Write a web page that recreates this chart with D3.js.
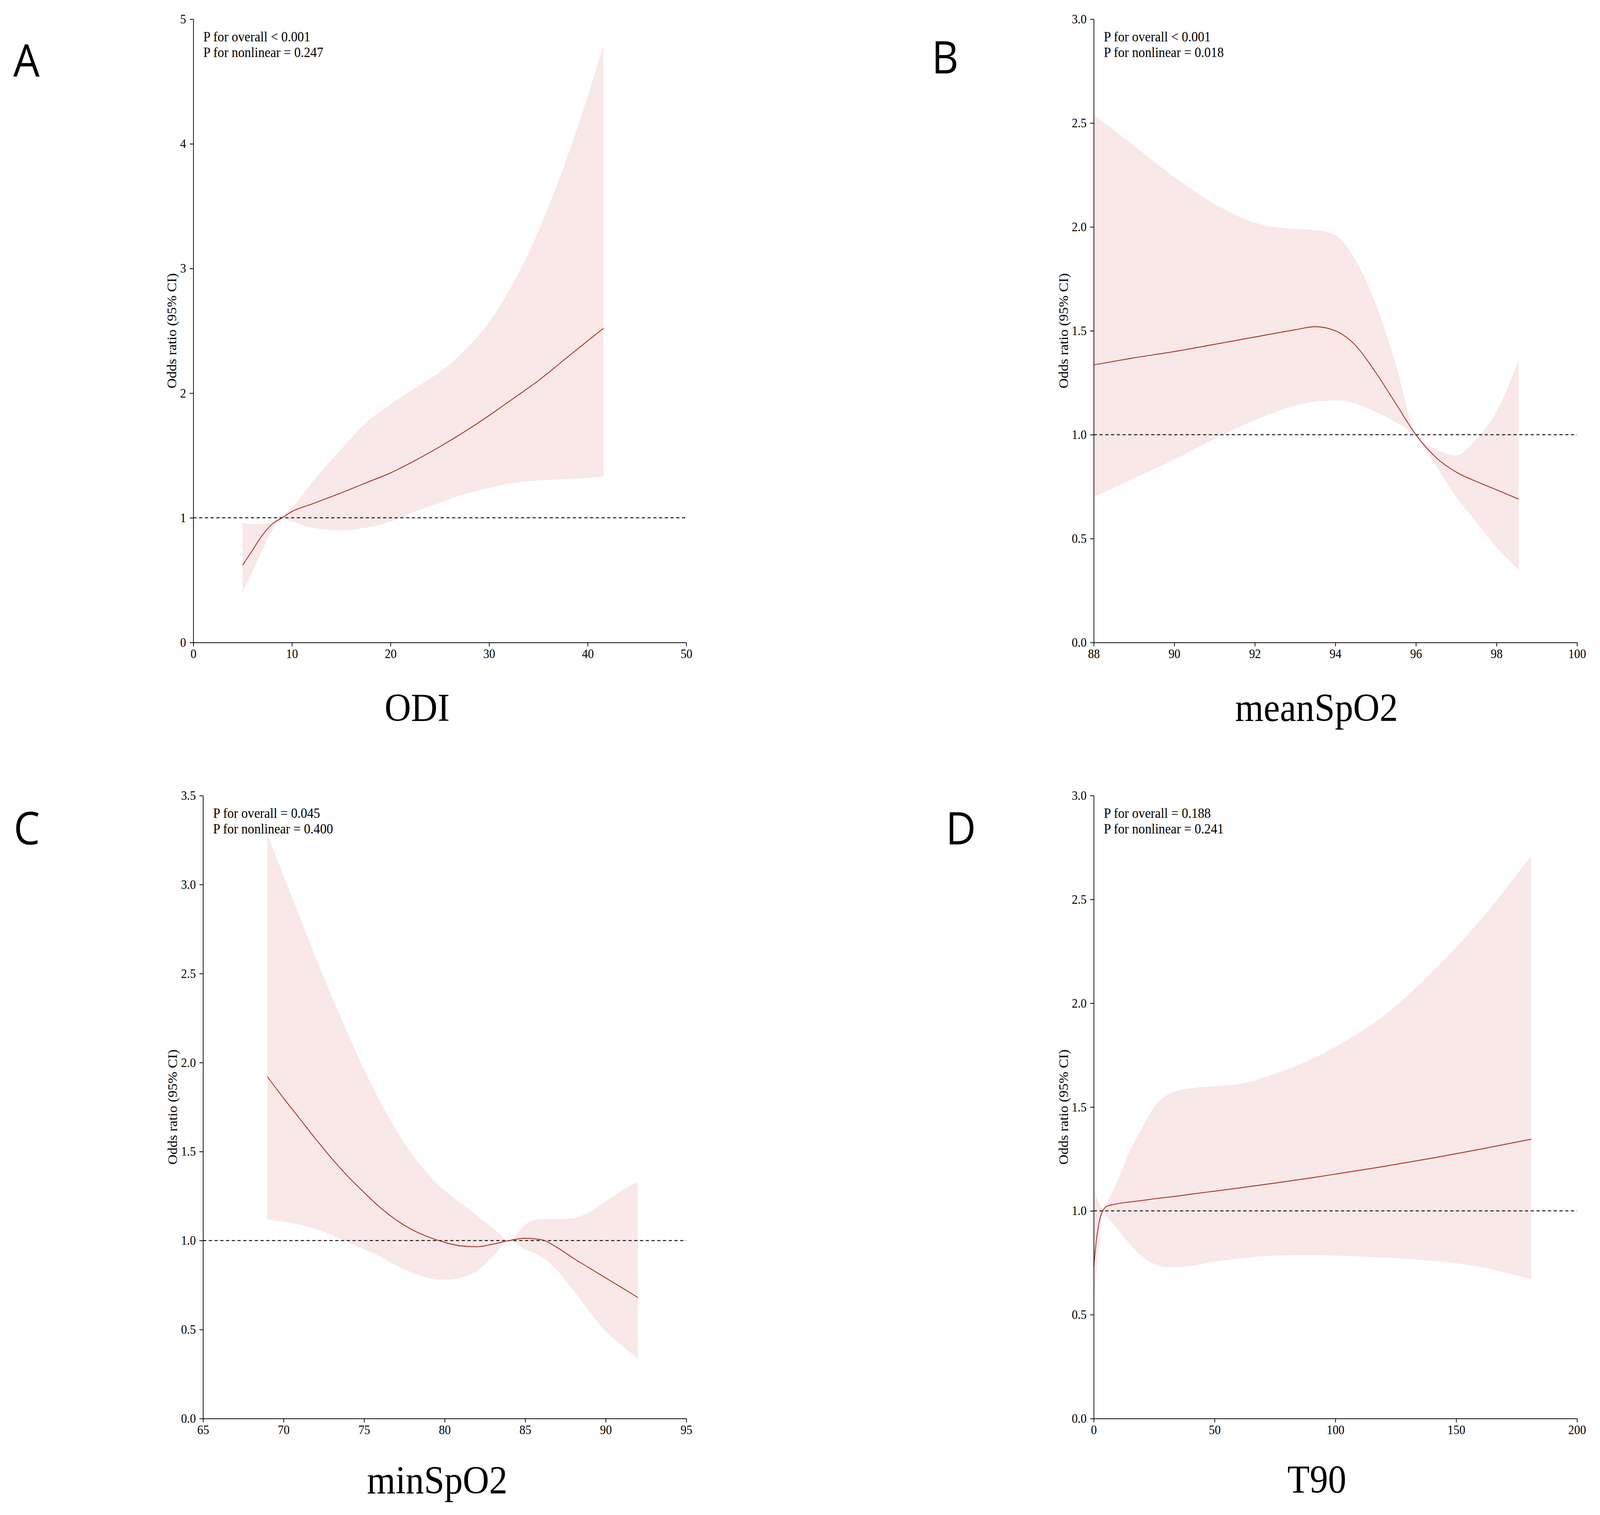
<!DOCTYPE html>
<html>
<head>
<meta charset="utf-8">
<script src="https://cdn.jsdelivr.net/npm/d3@7"></script>
<style>
  html, body { margin: 0; padding: 0; background: #fff; overflow: hidden; }
  svg { display: block; }
</style>
</head>
<body>
<div id="chart"></div>
<script>
// ---- data ----
const odiX     = [5, 6, 7, 8, 9, 10, 12, 15, 17.5, 20, 22.5, 25, 27.5, 30, 32.5, 35, 37.5, 40, 41.6];
const odiFit   = [0.62, 0.74, 0.86, 0.95, 1.0, 1.05, 1.11, 1.20, 1.28, 1.36, 1.46, 1.57, 1.69, 1.82, 1.96, 2.10, 2.26, 2.42, 2.52];
const odiUpper = [0.96, 0.95, 0.95, 0.97, 1.015, 1.08, 1.28, 1.55, 1.76, 1.91, 2.04, 2.17, 2.34, 2.57, 2.89, 3.30, 3.80, 4.38, 4.79];
const odiLower = [0.40, 0.57, 0.74, 0.90, 0.99, 0.97, 0.92, 0.90, 0.92, 0.97, 1.05, 1.12, 1.19, 1.24, 1.28, 1.30, 1.31, 1.32, 1.33];

const meanX     = [88, 89, 90, 91, 92, 93, 93.5, 94, 94.5, 95, 95.5, 96, 96.5, 97, 97.5, 98, 98.55];
const meanFit   = [1.336, 1.37, 1.40, 1.435, 1.47, 1.505, 1.52, 1.50, 1.43, 1.30, 1.15, 1.0, 0.89, 0.82, 0.775, 0.735, 0.69];
const meanUpper = [2.54, 2.39, 2.24, 2.11, 2.02, 1.99, 1.985, 1.96, 1.84, 1.63, 1.34, 1.0, 0.93, 0.90, 0.98, 1.11, 1.36];
const meanLower = [0.70, 0.79, 0.88, 0.98, 1.07, 1.14, 1.16, 1.165, 1.15, 1.11, 1.06, 0.99, 0.85, 0.70, 0.58, 0.46, 0.35];

const minX     = [69, 70, 71, 72, 73, 74, 75, 76, 77, 78, 79, 80, 81, 82, 83, 84, 85, 86, 87, 88, 89, 90, 91, 92];
const minFit   = [1.92, 1.80, 1.685, 1.57, 1.46, 1.36, 1.27, 1.185, 1.115, 1.06, 1.02, 0.99, 0.97, 0.965, 0.98, 1.0, 1.013, 1.005, 0.96, 0.90, 0.845, 0.79, 0.735, 0.68];
const minUpper = [3.28, 3.05, 2.82, 2.59, 2.37, 2.16, 1.96, 1.78, 1.62, 1.48, 1.37, 1.28, 1.21, 1.14, 1.07, 1.0, 1.09, 1.12, 1.12, 1.125, 1.16, 1.22, 1.28, 1.33];
const minLower = [1.12, 1.105, 1.09, 1.065, 1.03, 0.99, 0.95, 0.91, 0.86, 0.82, 0.79, 0.78, 0.79, 0.83, 0.91, 1.0, 0.95, 0.91, 0.83, 0.72, 0.60, 0.49, 0.41, 0.34];

const t90X     = [0, 1, 2, 3, 4, 5, 6, 8, 10, 15, 20, 25, 30, 35, 40, 50, 60, 75, 90, 100, 120, 140, 160, 181];
const t90Fit   = [0.73, 0.85, 0.93, 0.98, 1.005, 1.02, 1.025, 1.03, 1.035, 1.043, 1.05, 1.058, 1.065, 1.072, 1.08, 1.095, 1.11, 1.134, 1.159, 1.177, 1.214, 1.254, 1.297, 1.345];
const t90Upper = [1.10, 1.07, 1.04, 1.02, 1.01, 1.02, 1.05, 1.10, 1.15, 1.29, 1.40, 1.50, 1.555, 1.58, 1.59, 1.60, 1.61, 1.66, 1.73, 1.79, 1.94, 2.15, 2.40, 2.71];
const t90Lower = [0.55, 0.69, 0.83, 0.93, 0.995, 0.98, 0.965, 0.94, 0.91, 0.84, 0.78, 0.745, 0.73, 0.73, 0.735, 0.755, 0.77, 0.785, 0.787, 0.785, 0.775, 0.76, 0.73, 0.67];

const odiXTicks  = [0, 10, 20, 30, 40, 50];
const odiYTicks  = [0, 1, 2, 3, 4, 5];
const meanXTicks = [88, 90, 92, 94, 96, 98, 100];
const meanYTicks = [0, 0.5, 1, 1.5, 2, 2.5, 3];
const minXTicks  = [65, 70, 75, 80, 85, 90, 95];
const minYTicks  = [0, 0.5, 1, 1.5, 2, 2.5, 3, 3.5];
const t90XTicks  = [0, 50, 100, 150, 200];
const t90YTicks  = [0, 0.5, 1, 1.5, 2, 2.5, 3];

const panelLetters = ["A", "B", "C", "D"];
const xTitles = ["ODI", "meanSpO2", "minSpO2", "T90"];
const pOverall = ["P for overall < 0.001", "P for overall < 0.001", "P for overall = 0.045", "P for overall = 0.188"];
const pNonlinear = ["P for nonlinear = 0.247", "P for nonlinear = 0.018", "P for nonlinear = 0.400", "P for nonlinear = 0.241"];

// ---- drawing ----
// the figure is laid out at 4453x3879 and scaled to whatever viewport we get
const W = 4453, H = 3879;
const serif = "'Liberation Serif', 'Times New Roman', serif";
const svg = d3.select("#chart").append("svg")
    .attr("width", window.innerWidth || W)
    .attr("height", window.innerHeight || H)
    .attr("viewBox", "0 0 " + W + " " + H)
    .attr("preserveAspectRatio", "none")
    .style("background", "#fff");

const panels = [
    { xs: odiX, fit: odiFit, lo: odiLower, hi: odiUpper, xTicks: odiXTicks, yTicks: odiYTicks, yFmt: d3.format("d"),
      left: 538, right: 1910, top: 49, bottom: 1645, titleX: 1161, titleY: 1846, letterX: 37, letterY: 196 },
    { xs: meanX, fit: meanFit, lo: meanLower, hi: meanUpper, xTicks: meanXTicks, yTicks: meanYTicks, yFmt: d3.format(".1f"),
      left: 3044, right: 4389, top: 49, bottom: 1645, titleX: 3664, titleY: 1846, letterX: 2593, letterY: 188 },
    { xs: minX, fit: minFit, lo: minLower, hi: minUpper, xTicks: minXTicks, yTicks: minYTicks, yFmt: d3.format(".1f"),
      left: 565, right: 1910, top: 2037, bottom: 3632, titleX: 1217, titleY: 3824, letterX: 38, letterY: 2162 },
    { xs: t90X, fit: t90Fit, lo: t90Lower, hi: t90Upper, xTicks: t90XTicks, yTicks: t90YTicks, yFmt: d3.format(".1f"),
      left: 3044, right: 4389, top: 2037, bottom: 3632, titleX: 3665, titleY: 3822, letterX: 2632, letterY: 2162 }
];

const drawPanel = (p, i) => {
    const x = d3.scaleLinear()
        .domain(d3.extent(p.xTicks))
        .range([p.left, p.right]);
    const y = d3.scaleLinear()
        .domain(d3.extent(p.yTicks))
        .range([p.bottom, p.top]);

    const pts = p.xs.map((v, k) => ({ x: v, fit: p.fit[k], lo: p.lo[k], hi: p.hi[k] }));
    const g = svg.append("g");

    // confidence ribbon
    g.append("path")
        .datum(pts)
        .attr("fill", "#f8e8e7")
        .attr("d", d3.area()
            .x(d => x(d.x))
            .y0(d => y(d.lo))
            .y1(d => y(d.hi))
            .curve(d3.curveMonotoneX));

    // reference line at OR = 1
    g.append("line")
        .attr("x1", x.range()[0])
        .attr("x2", x.range()[1])
        .attr("y1", y(1))
        .attr("y2", y(1))
        .attr("stroke", "#1a1a1a")
        .attr("stroke-width", 2.5)
        .attr("stroke-dasharray", "9,7");

    g.append("path")
        .datum(pts)
        .attr("fill", "none")
        .attr("stroke", "#a82a22")
        .attr("stroke-width", 2.2)
        .attr("d", d3.line()
            .x(d => x(d.x))
            .y(d => y(d.fit))
            .curve(d3.curveMonotoneX));

    const xAxis = g.append("g")
        .attr("transform", "translate(0," + p.bottom + ")")
        .call(d3.axisBottom(x).tickValues(p.xTicks).tickSize(10).tickSizeOuter(0).tickPadding(7));

    const yAxis = g.append("g")
        .attr("transform", "translate(" + p.left + ",0)")
        .call(d3.axisLeft(y).tickValues(p.yTicks).tickFormat(p.yFmt).tickSize(10).tickSizeOuter(0).tickPadding(10));

    [xAxis, yAxis].forEach(a => {
        a.attr("font-family", serif).attr("font-size", 33);
        a.selectAll("path, line").attr("stroke", "#000").attr("stroke-width", 2);
        a.selectAll("text").attr("fill", "#000");
    });

    const bb = yAxis.node().getBBox();
    g.append("text")
        .text("Odds ratio (95% CI)")
        .attr("transform", "translate(" + (p.left + bb.x - 11) + "," + ((p.top + p.bottom) / 2) + ") rotate(-90)")
        .attr("text-anchor", "middle")
        .attr("font-family", serif)
        .attr("font-size", 36)
        .attr("fill", "#000");

    const note = g.append("text")
        .attr("font-family", serif)
        .attr("font-size", 36)
        .attr("fill", "#000");
    note.append("tspan").attr("x", p.left + 28).attr("y", p.top + 57).text(pOverall[i]);
    note.append("tspan").attr("x", p.left + 28).attr("y", p.top + 97).text(pNonlinear[i]);

    g.append("text")
        .text(xTitles[i])
        .attr("x", p.titleX)
        .attr("y", p.titleY)
        .attr("text-anchor", "middle")
        .attr("font-family", serif)
        .attr("font-size", 102)
        .attr("fill", "#000");

    g.append("text")
        .text(panelLetters[i])
        .attr("x", p.letterX)
        .attr("y", p.letterY)
        .attr("font-family", "'Open Sans', 'Noto Sans', sans-serif")
        .attr("font-size", 116)
        .attr("fill", "#000");
};

panels.forEach(drawPanel);
</script>
</body>
</html>
